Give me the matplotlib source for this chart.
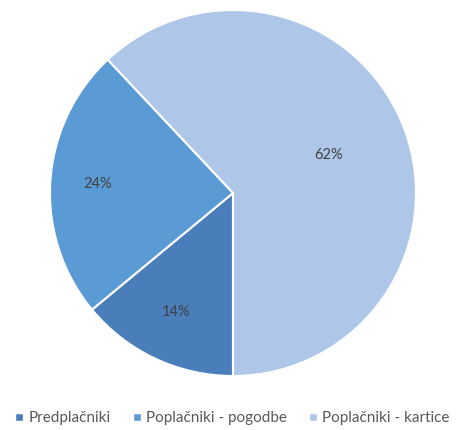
import matplotlib.pyplot as plt
from matplotlib.lines import Line2D

plt.rcParams["font.family"] = ["Lato", "DejaVu Sans"]

# Podatki
labels = ["Predplačniki", "Poplačniki - pogodbe", "Poplačniki - kartice"]
shares = [14, 24, 62]
colors = ["#4a7ebb", "#5b9bd5", "#aec7e8"]

fig = plt.figure(figsize=(4.61, 4.30), dpi=100)
ax = fig.add_axes([50 / 461, 54 / 430, 366 / 461, 366 / 430])

wedges, texts, autotexts = ax.pie(
    shares,
    colors=colors,
    startangle=-90,
    counterclock=False,
    autopct="%d%%",
    pctdistance=0.74,
    wedgeprops={"edgecolor": "white", "linewidth": 1.5},
    textprops={"color": "#404040", "fontsize": 10.5},
)
# Excel postavi večjo oznako bližje središču
x, y = autotexts[2].get_position()
autotexts[2].set_position((x * 0.76, y * 0.76))
x, y = autotexts[0].get_position()
autotexts[0].set_position((x * 0.98, y * 0.97))

ax.set_xlim(-1.0, 1.0)
ax.set_ylim(-1.0, 1.0)
ax.set_aspect("equal")

handles = [
    Line2D([0], [0], marker="s", color="w", markerfacecolor=c, markersize=5.5, linestyle="")
    for c in colors
]
fig.legend(
    handles,
    labels,
    loc="center",
    bbox_to_anchor=(0.5, 12 / 430),
    ncol=3,
    frameon=False,
    fontsize=11,
    labelcolor="#595959",
    handletextpad=0.1,
    columnspacing=1.2,
    handlelength=1.0,
)

fig.savefig("out.png", dpi=100)
